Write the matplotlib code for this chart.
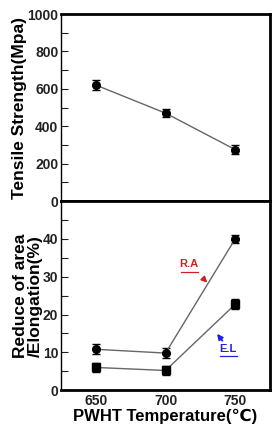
import matplotlib.pyplot as plt
from matplotlib.ticker import MultipleLocator, FixedLocator

plt.rcParams['font.family'] = ['Liberation Sans', 'DejaVu Sans']
plt.rcParams['font.weight'] = 'bold'

temps = [650, 700, 750]
tensile = [620, 470, 275]
tensile_err = [25, 22, 25]
ra = [10.8, 9.8, 40.0]
ra_err = [1.3, 1.3, 1.0]
el = [6.0, 5.2, 22.7]
el_err = [1.3, 1.3, 1.3]

fig = plt.figure(figsize=(2.75, 4.25), dpi=100)
ax1 = fig.add_axes([0.222, 0.527, 0.76, 0.44])
ax2 = fig.add_axes([0.222, 0.082, 0.76, 0.445])

for ax in (ax1, ax2):
    for s in ax.spines.values():
        s.set_linewidth(2)
    ax.spines['left'].set_linewidth(1)
    ax.tick_params(direction='in', which='both', labelsize=10, length=5, width=0.8,
                   top=False, right=False, pad=2, colors='#222222')
    ax.set_xlim(625, 775)

ax1.errorbar(temps, tensile, yerr=tensile_err, color='#666666', lw=1,
             marker='o', ms=5.5, mfc='black', mec='black', ecolor='black',
             elinewidth=1, capsize=3)
ax1.set_ylim(0, 1000)
ax1.yaxis.set_major_locator(MultipleLocator(200))
ax1.yaxis.set_minor_locator(MultipleLocator(100))
ax1.set_xticks([])
ax1.set_ylabel('Tensile Strength(Mpa)', fontsize=12.5, fontweight='bold', labelpad=0)

ax2.errorbar(temps, ra, yerr=ra_err, color='#666666', lw=1,
             marker='o', ms=5.5, mfc='black', mec='black', ecolor='black',
             elinewidth=1, capsize=3)
ax2.errorbar(temps, el, yerr=el_err, color='#666666', lw=1,
             marker='s', ms=5.5, mfc='black', mec='black', ecolor='black',
             elinewidth=1, capsize=3)
ax2.set_ylim(0, 50)
ax2.yaxis.set_major_locator(FixedLocator([0, 10, 20, 30, 40]))
ax2.yaxis.set_minor_locator(FixedLocator([5, 15, 25, 35, 45]))
ax2.set_xticks(temps)
ax2.tick_params(axis='x', length=0, pad=3)
ax2.set_ylabel('Reduce of area\n/Elongation(%)', fontsize=12.5, fontweight='bold',
               labelpad=0, linespacing=1.0)
ax2.set_xlabel('PWHT Temperature(℃)', fontsize=12, fontweight='bold', labelpad=0)

ax2.annotate('R.A', xy=(730, 28.4), xytext=(717, 33.3), color='#d42020',
             fontsize=8, fontweight='bold', ha='center', va='center',
             arrowprops=dict(arrowstyle='-|>', color='#d42020', lw=1.3,
                             mutation_scale=8, shrinkA=7, shrinkB=0))
ax2.annotate('E.L', xy=(737, 14.9), xytext=(745, 11.0), color='#2020e0',
             fontsize=8, fontweight='bold', ha='center', va='center',
             arrowprops=dict(arrowstyle='-|>', color='#2020e0', lw=1.3,
                             mutation_scale=8, shrinkA=7, shrinkB=0))
for x, y, c in [(717, 31.3, '#d42020'), (745, 9.0, '#2020e0')]:
    ax2.plot([x - 6, x + 6], [y, y], color=c, lw=0.9)

fig.savefig('out.png', dpi=100)
